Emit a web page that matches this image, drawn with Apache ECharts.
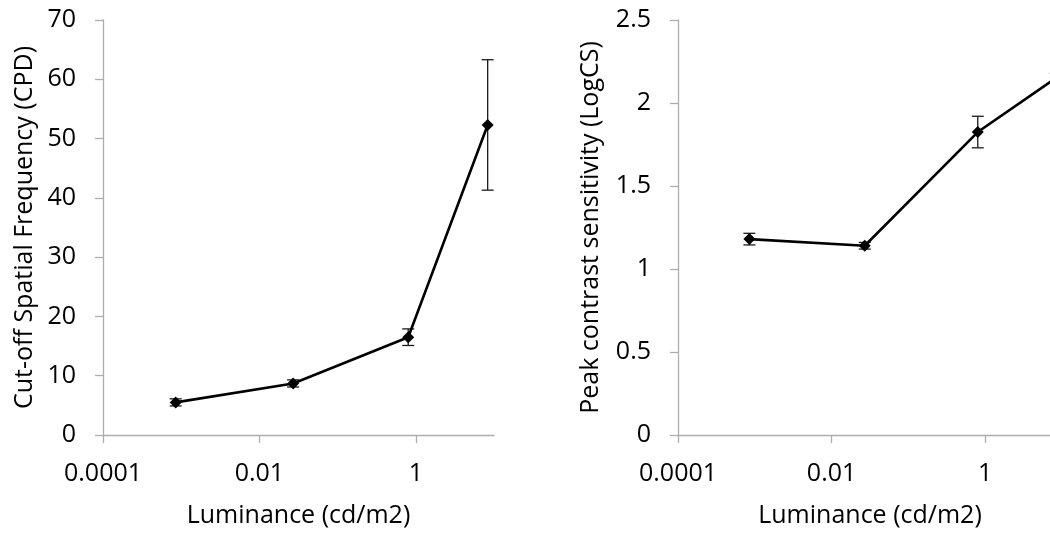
<!DOCTYPE html>
<html>
<head>
<meta charset="utf-8">
<script src="https://cdn.jsdelivr.net/npm/echarts@6/dist/echarts.min.js"></script>
<style>
  html, body { margin: 0; padding: 0; background: #ffffff; }
  #chart { width: 1050px; height: 535px; }
</style>
</head>
<body>
<div id="chart"></div>
<script>
// ---- data ----
const luminance   = [0.00085, 0.027, 0.8, 8.3];        // cd/m2
const cutoffSF    = [5.5, 8.7, 16.5, 52.3];            // CPD
const cutoffSFErr = [0.6, 0.6, 1.4, 11.0];
const peakCS      = [1.18, 1.14, 1.825, 2.15];         // LogCS
const peakCSErr   = [0.035, 0.02, 0.095, 0.03];
const xTickValues = [0.0001, 0.01, 1];
const xTickLabels = ['0.0001', '0.01', '1'];
const xTitle      = 'Luminance (cd/m2)';
const yTitleLeft  = 'Cut-off Spatial Frequency (CPD)';
const yTitleRight = 'Peak contrast sensitivity (LogCS)';

// ---- build ----
const FONT = 'Open Sans';
const FS = 25;
const AXIS_COLOR = '#ADADAD';
const lg = v => Math.log10(v);
const xTickLog = xTickValues.map(lg);

function lineData(ys) { return luminance.map((x, i) => [lg(x), ys[i]]); }
function errData(ys, es) { return luminance.map((x, i) => [lg(x), ys[i] - es[i], ys[i] + es[i]]); }

function errRender(params, api) {
  const x = api.value(0);
  const lo = api.coord([x, api.value(1)]);
  const hi = api.coord([x, api.value(2)]);
  const w = 6;
  const style = { stroke: '#1a1a1a', lineWidth: 1.3, fill: null };
  return {
    type: 'group',
    children: [
      { type: 'line', shape: { x1: lo[0], y1: lo[1], x2: hi[0], y2: hi[1] }, style },
      { type: 'line', shape: { x1: hi[0] - w, y1: hi[1], x2: hi[0] + w, y2: hi[1] }, style },
      { type: 'line', shape: { x1: lo[0] - w, y1: lo[1], x2: lo[0] + w, y2: lo[1] }, style }
    ]
  };
}

function xAxisCfg(gridIndex) {
  return {
    gridIndex, type: 'value', min: lg(0.0001), max: lg(10),
    name: xTitle, nameLocation: 'middle', nameGap: 68,
    nameTextStyle: { fontFamily: FONT, fontSize: FS, color: '#000' },
    axisLine: { onZero: false, lineStyle: { color: AXIS_COLOR, width: 1.3 } },
    axisTick: { show: true, length: 8, inside: false, customValues: xTickLog, lineStyle: { color: AXIS_COLOR, width: 1.3 } },
    axisLabel: {
      customValues: xTickLog, margin: 26,
      fontFamily: FONT, fontSize: FS, color: '#000',
      formatter: v => { const i = xTickLog.findIndex(t => Math.abs(t - v) < 1e-6); return i >= 0 ? xTickLabels[i] : ''; }
    },
    splitLine: { show: false }
  };
}
function yAxisCfg(gridIndex, max, interval, title, gap) {
  return {
    gridIndex, type: 'value', min: 0, max, interval,
    name: title, nameLocation: 'middle', nameGap: gap,
    nameTextStyle: { fontFamily: FONT, fontSize: FS, color: '#000' },
    axisLine: { show: true, onZero: false, lineStyle: { color: AXIS_COLOR, width: 1.3 } },
    axisTick: { show: true, length: 8, lineStyle: { color: AXIS_COLOR, width: 1.3 } },
    axisLabel: { margin: 27, fontFamily: FONT, fontSize: FS, color: '#000' },
    splitLine: { show: false }
  };
}

const chart = echarts.init(document.getElementById('chart'), null, { renderer: 'canvas' });
chart.setOption({
  animation: false,
  backgroundColor: '#ffffff',
  grid: [
    { left: 103, top: 20, width: 391, height: 415, outerBoundsMode: 'none', containLabel: false },
    { left: 678, top: 20, width: 384, height: 415, outerBoundsMode: 'none', containLabel: false }
  ],
  xAxis: [xAxisCfg(0), xAxisCfg(1)],
  yAxis: [
    yAxisCfg(0, 70, 10, yTitleLeft, 66),
    yAxisCfg(1, 2.5, 0.5, yTitleRight, 75)
  ],
  series: [
    { type: 'custom', xAxisIndex: 0, yAxisIndex: 0, renderItem: errRender, data: errData(cutoffSF, cutoffSFErr), z: 3 },
    { type: 'line', xAxisIndex: 0, yAxisIndex: 0, data: lineData(cutoffSF),
      symbol: 'diamond', symbolSize: 12, lineStyle: { color: '#000', width: 2.6 }, itemStyle: { color: '#000' }, z: 4 },
    { type: 'custom', xAxisIndex: 1, yAxisIndex: 1, renderItem: errRender, data: errData(peakCS, peakCSErr), z: 3 },
    { type: 'line', xAxisIndex: 1, yAxisIndex: 1, data: lineData(peakCS),
      symbol: 'diamond', symbolSize: 12, lineStyle: { color: '#000', width: 2.6 }, itemStyle: { color: '#000' }, z: 4 }
  ]
});
</script>
</body>
</html>
